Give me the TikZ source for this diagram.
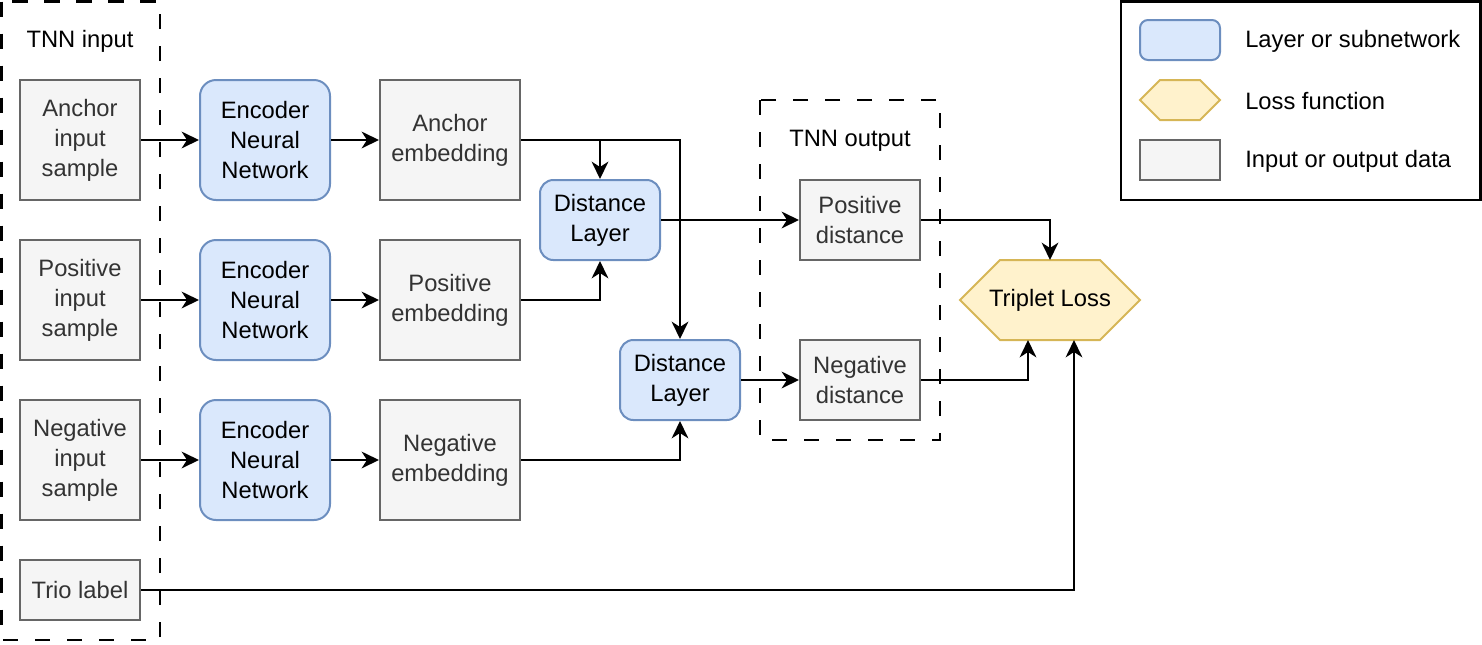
\documentclass[tikz,border=0pt]{standalone}
\usepackage{fontspec}
\setmainfont{Liberation Sans}
\usetikzlibrary{arrows.meta,backgrounds}
\definecolor{layerfill}{HTML}{DAE8FC}
\definecolor{layerline}{HTML}{6C8EBF}
\definecolor{lossfill}{HTML}{FFF2CC}
\definecolor{lossline}{HTML}{D6B656}
\definecolor{datafill}{HTML}{F5F5F5}
\definecolor{dataline}{HTML}{666666}
\definecolor{datatext}{HTML}{333333}
\tikzset{
  every node/.style={font=\fontsize{17.8}{22.5}\selectfont, align=center, inner sep=0pt},
  datanode/.style={draw=dataline, fill=datafill, text=datatext, line width=1.5pt,
    minimum width=90pt, minimum height=90pt},
  layernode/.style={draw=layerline, fill=layerfill, line width=1.5pt, rounded corners=12pt,
    minimum width=97.5pt, minimum height=90pt},
  distnode/.style={layernode, rounded corners=10pt, minimum width=90pt, minimum height=60pt},
  lossshape/.style={draw=lossline, fill=lossfill, line width=1.5pt},
  groupbox/.style={line width=1.6pt, dash pattern=on 11.5pt off 12.5pt},
  conn/.style={line width=1.7pt, -{Stealth[length=13pt,width=12.5pt,inset=4pt]}}
}
\begin{document}
\begin{tikzpicture}[x=0.75pt,y=-0.75pt]
	\useasboundingbox (0,0) rectangle (1482,644);
	% groups
	\draw[groupbox] (1.5,1.5) rectangle (160,640);
	\node (inlabel) at (80,41) {TNN input};
	\draw[groupbox] (760,100) rectangle (940,440);
	\node (outlabel) at (850,141) {TNN output};
	% inputs
	\node[datanode] (anin) at (80,140) {Anchor\\input\\sample};
	\node[datanode] (posin) at (80,300) {Positive\\input\\sample};
	\node[datanode] (negin) at (80,460) {Negative\\input\\sample};
	\node[datanode, minimum height=45pt] (trio) at (80,590) {Trio label};
	% encoders
	\node[layernode] (anenc) at (265,140) {Encoder\\Neural\\Network};
	\node[layernode] (posenc) at (265,300) {Encoder\\Neural\\Network};
	\node[layernode] (negenc) at (265,460) {Encoder\\Neural\\Network};
	% embeddings
	\node[datanode, minimum width=105pt] (anemb) at (450,140) {Anchor\\embedding};
	\node[datanode, minimum width=105pt] (posemb) at (450,300) {Positive\\embedding};
	\node[datanode, minimum width=105pt] (negemb) at (450,460) {Negative\\embedding};
	% distances
	\node[distnode] (dlpos) at (600,220) {Distance\\Layer};
	\node[distnode] (dlneg) at (680,380) {Distance\\Layer};
	\node[datanode, minimum height=60pt] (posdist) at (860,220) {Positive\\distance};
	\node[datanode, minimum height=60pt] (negdist) at (860,380) {Negative\\distance};
	% loss
	\node[minimum width=135pt, minimum height=60pt, outer sep=0pt] (loss) at (1050,300) {Triplet Loss};
	\begin{scope}[on background layer]
		\draw[lossshape] (loss.west) -- ([xshift=30pt]loss.north west) -- ([xshift=-30pt]loss.north east)
			-- (loss.east) -- ([xshift=-30pt]loss.south east) -- ([xshift=30pt]loss.south west) -- cycle;
	\end{scope}
	% connectors
	\draw[conn] (anin) -- (anenc);
	\draw[conn] (posin) -- (posenc);
	\draw[conn] (negin) -- (negenc);
	\draw[conn] (anenc) -- (anemb);
	\draw[conn] (posenc) -- (posemb);
	\draw[conn] (negenc) -- (negemb);
	\draw[conn] (anemb.east) -| (dlneg.north);
	\draw[conn] (anemb.east -| dlpos.north) -- (dlpos.north);
	\draw[conn] (posemb.east) -| (dlpos.south);
	\draw[conn] (negemb.east) -| (dlneg.south);
	\draw[conn] (dlpos) -- (posdist);
	\draw[conn] (dlneg) -- (negdist);
	\draw[conn] (posdist.east) -| (loss.north);
	\draw[conn] (negdist.east) -| ([xshift=-16.5pt]loss.south);
	\draw[conn] (trio.east) -| ([xshift=18pt]loss.south);
	% legend
	\draw[line width=1.6pt] (1121,1.5) rectangle (1480.5,200);
	\node[draw=layerline, fill=layerfill, line width=1.5pt, rounded corners=6pt,
		minimum width=60pt, minimum height=30pt] (keylayer) at (1180,40) {};
	\node[minimum width=60pt, minimum height=30pt, outer sep=0pt] (keyloss) at (1180,100) {};
	\draw[lossshape] (keyloss.west) -- ([xshift=15pt]keyloss.north west) -- ([xshift=-15pt]keyloss.north east)
		-- (keyloss.east) -- ([xshift=-15pt]keyloss.south east) -- ([xshift=15pt]keyloss.south west) -- cycle;
	\node[datanode, minimum width=60pt, minimum height=30pt] (keydata) at (1180,160) {};
	\node[anchor=west] at (1245,41) {Layer or subnetwork};
	\node[anchor=west] at (1245,101) {Loss function};
	\node[anchor=west] at (1245,161) {Input or output data};
\end{tikzpicture}
\end{document}
